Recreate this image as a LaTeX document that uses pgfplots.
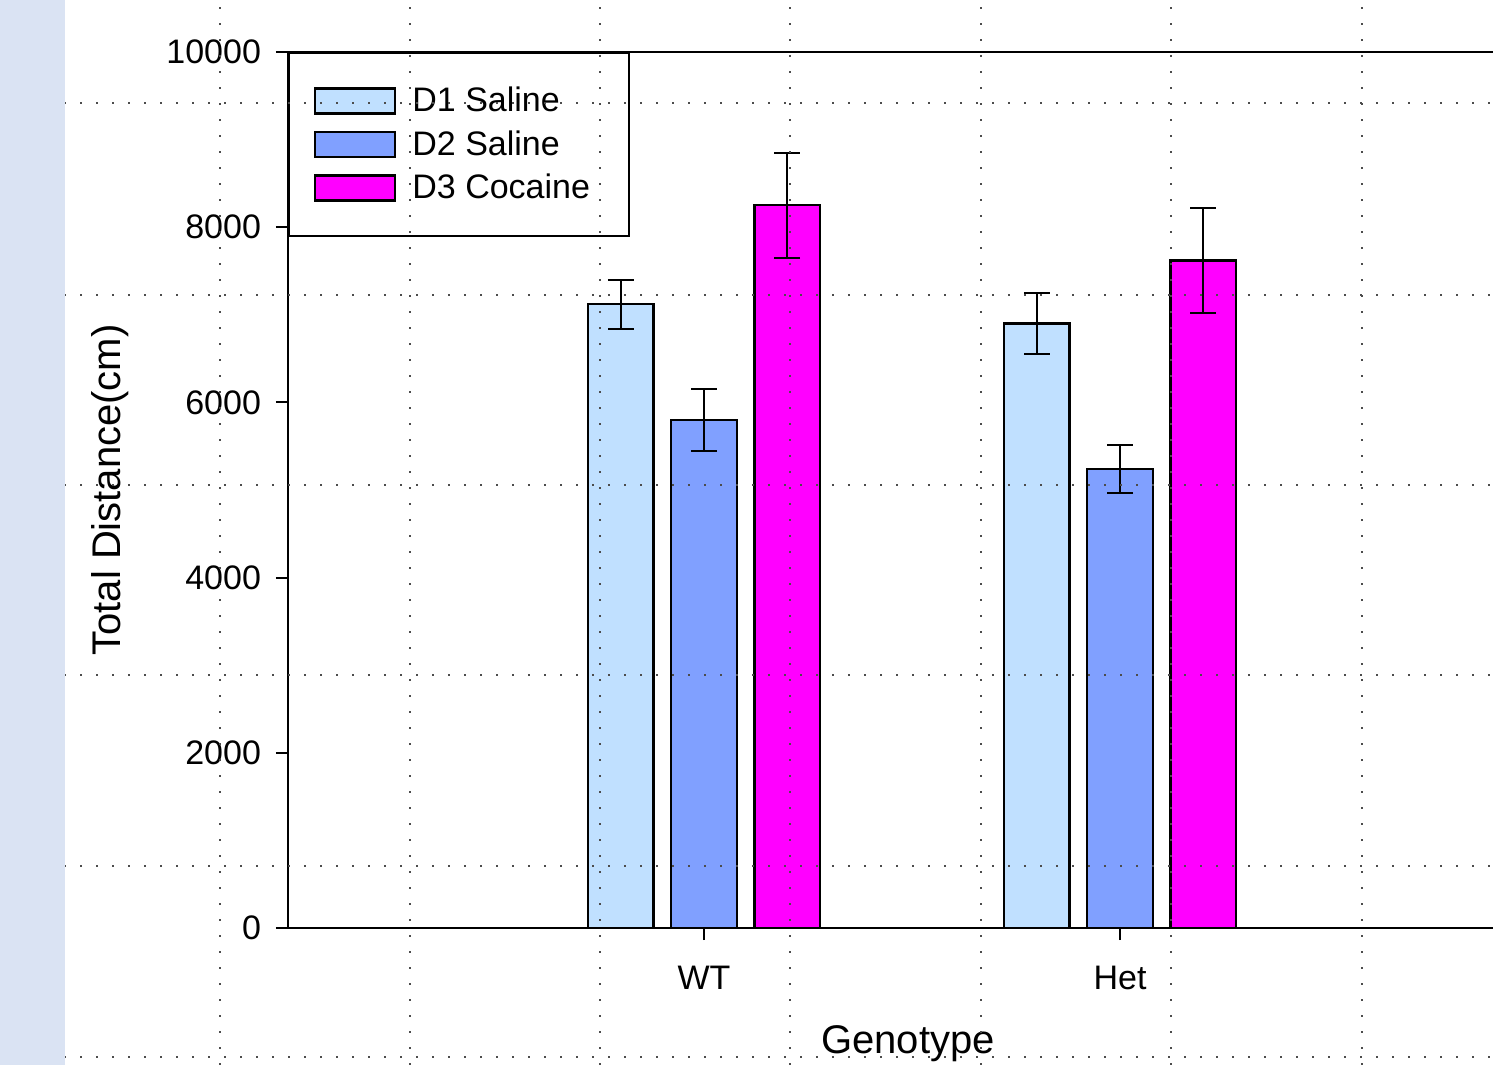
\documentclass[border=0pt]{standalone}
\usepackage{fontspec}
\setmainfont{Liberation Sans}
\usepackage{pgfplots}
\pgfplotsset{compat=1.18}
\definecolor{dOne}{HTML}{C0E0FF}
\definecolor{dTwo}{HTML}{80A0FF}
\definecolor{dThree}{HTML}{FF00FF}
\definecolor{stripcol}{HTML}{DAE3F3}
\newcommand{\tickfont}{\fontsize{17}{20}\selectfont}
\newcommand{\labfont}{\fontsize{20}{24}\selectfont}
\begin{document}
\begin{tikzpicture}
\path[use as bounding box] (0,0) rectangle (746.5pt,532.5pt);
\begin{axis}[
  at={(144pt,68.5pt)}, anchor=south west,
  scale only axis, width=624pt, height=438pt,
  xmin=0, xmax=3, ymin=0, ymax=10000,
  xtick={1,2}, xticklabels={WT,Het},
  xtick pos=bottom, ytick pos=left,
  ytick={0,2000,4000,6000,8000,10000},
  scaled y ticks=false,
  tick align=outside, major tick length=6pt,
  tick style={black, line width=1pt},
  axis line style={black, line width=1.2pt},
  /pgf/number format/assume math mode=true,
  yticklabel style={/pgf/number format/1000 sep={}, font=\tickfont, xshift=-4pt},
  xticklabel style={font=\tickfont, yshift=-9.5pt},
  xlabel={Genotype}, ylabel={Total Distance(cm)},
  every axis x label/.style={at={(axis description cs:0.4968,-0.143)}, anchor=base, font=\labfont},
  every axis y label/.style={at={(axis description cs:-0.1426,0.5)}, anchor=center, rotate=90, font=\labfont},
  legend style={at={(axis description cs:0,1)}, anchor=north west, draw=black, line width=1pt,
    inner xsep=12.5pt, inner ysep=17pt, row sep=8pt, font=\tickfont,
    cells={anchor=west}, nodes={inner sep=0pt}},
  error bars/y dir=both, error bars/y explicit,
  error bars/error bar style={black, line width=1pt},
  error bars/error mark options={rotate=90, mark size=6.5pt, line width=1pt, black},
  bar width=0.158,
]
\addplot[ybar, bar shift=0, fill=dOne, draw=black, line width=1.2pt,
  legend image code/.code={\draw[fill=dOne,draw=black,line width=1.2pt] (0pt,-6.25pt) rectangle (40pt,6.25pt); \path (48pt,0pt);}]
  coordinates {(0.8,7120) +- (0,280) (1.8,6900) +- (0,350)};
\addlegendentry{D1 Saline}
\addplot[ybar, bar shift=0, fill=dTwo, draw=black, line width=1.2pt,
  legend image code/.code={\draw[fill=dTwo,draw=black,line width=1.2pt] (0pt,-6.25pt) rectangle (40pt,6.25pt); \path (48pt,0pt);}]
  coordinates {(1,5800) +- (0,350) (2,5240) +- (0,270)};
\addlegendentry{D2 Saline}
\addplot[ybar, bar shift=0, fill=dThree, draw=black, line width=1.2pt,
  legend image code/.code={\draw[fill=dThree,draw=black,line width=1.2pt] (0pt,-6.25pt) rectangle (40pt,6.25pt); \path (48pt,0pt);}]
  coordinates {(1.2,8250) +- (0,600) (2.2,7620) +- (0,600)};
\addlegendentry{D3 Cocaine\rule{7pt}{0pt}}
\end{axis}
\begin{axis}[
  at={(0pt,0pt)}, anchor=south west,
  scale only axis, width=746.5pt, height=532.5pt,
  xmin=0, xmax=1493, ymin=0, ymax=1065,
  axis line style={draw=none}, tick style={draw=none},
  xtick={220,410,600,790,981,1171,1362},
  ytick={199,390,580,770,962},
  xticklabels={}, yticklabels={},
  grid=major,
  major grid style={black!70, line width=0.9pt, dash pattern=on 0.9pt off 7.1pt},
  extra y ticks={8}, extra y tick labels={},
  extra y tick style={grid style={black!70, line width=0.9pt, dash pattern=on 0.9pt off 3.1pt}},
]
\addplot[draw=none] coordinates {(0,0)};
\end{axis}
\fill[stripcol] (0,0) rectangle (32.5pt,532.5pt);
\end{tikzpicture}
\end{document}
